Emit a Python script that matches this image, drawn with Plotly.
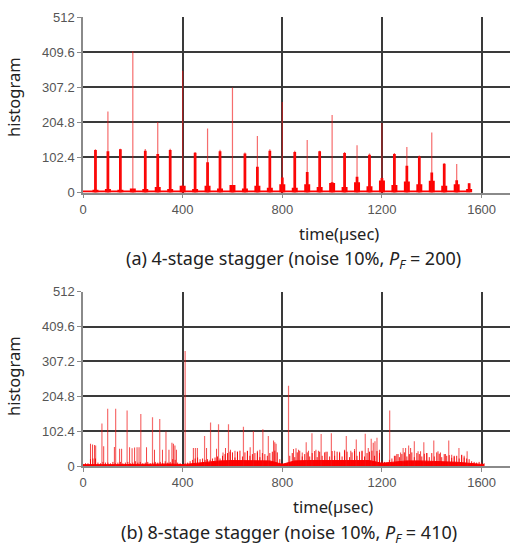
import plotly.graph_objects as go

# ---------------- data ----------------
# panel (a): 4-stage stagger
a_t = [50, 100, 150, 200, 250, 300, 350, 400, 450, 500, 550, 600, 650, 700, 750, 800,
       850, 900, 950, 1000, 1050, 1100, 1150, 1200, 1250, 1300, 1350, 1400, 1450, 1500, 1550]
a_peak = [126, 236, 128, 412, 127, 206, 128, 355, 118, 187, 125, 306, 117, 165, 126, 264,
          122, 153, 122, 226, 118, 138, 114, 203, 115, 133, 108, 175, 86, 83, 27]
a_body = [124, 120, 126, 10, 122, 112, 124, 20, 116, 88, 120, 22, 114, 75, 122, 44,
          118, 60, 120, 30, 115, 46, 110, 42, 112, 78, 105, 58, 84, 36, 27]
a_foot = [8, 10, 8, 12, 10, 16, 10, 20, 10, 20, 12, 22, 12, 20, 14, 24,
          14, 24, 16, 28, 16, 30, 18, 35, 22, 32, 24, 34, 20, 24, 10]
a_floor_t = [0, 1545]
a_floor_v = [3, 3]

# panel (b): 8-stage stagger
b_t = [76, 99, 131, 177, 232, 279, 308, 333, 410, 488, 512, 544, 584, 644, 684, 722, 744,
       825, 896, 919, 956, 997, 1057, 1097, 1133, 1157, 1180, 1231, 1285, 1307, 1330,
       1368, 1408, 1468, 1509, 1542]
b_peak = [125, 168, 168, 163, 153, 143, 138, 101, 338, 88, 128, 123, 123, 115, 103, 108, 88,
          236, 70, 96, 94, 96, 88, 78, 95, 80, 83, 163, 53, 60, 73,
          70, 75, 75, 53, 43]
b_ct = [30, 38, 46, 51, 83, 126, 147, 155, 187, 197, 207, 217, 225, 255, 287, 319, 345,
        357, 363, 369, 375, 443, 451, 459, 496, 536, 562, 572, 592, 610, 620, 660, 671,
        700, 710, 765, 770, 775, 845, 855, 865, 880, 905, 935, 945, 975, 1010, 1030, 1050,
        1075, 1090, 1120, 1145, 1165, 1172, 1190, 1255, 1265, 1275, 1295, 1315, 1345, 1355,
        1380, 1425, 1435, 1455, 1480, 1490, 1520, 1530]
b_ch = [65, 63, 62, 60, 58, 56, 51, 51, 55, 52, 54, 55, 55, 55, 48, 48, 48,
        68, 65, 60, 48, 53, 53, 53, 53, 51, 40, 53, 48, 45, 42, 45, 55,
        45, 48, 75, 70, 65, 50, 52, 48, 40, 45, 48, 45, 42, 45, 42, 48,
        45, 50, 43, 53, 68, 73, 48, 30, 35, 40, 53, 53, 43, 43,
        38, 43, 40, 35, 33, 30, 33, 30]
b_floor_t = [0, 10, 20, 30, 40, 50, 60, 70, 80, 90,
             100, 110, 120, 130, 140, 150, 160, 170, 180, 190,
             200, 210, 220, 230, 240, 250, 260, 270, 280, 290,
             300, 310, 320, 330, 340, 350, 360, 370, 380, 390,
             400, 410, 420, 430, 440, 450, 460, 470, 480, 490,
             500, 510, 520, 530, 540, 550, 560, 570, 580, 590,
             600, 610, 620, 630, 640, 650, 660, 670, 680, 690,
             700, 710, 720, 730, 740, 750, 760, 770, 780, 790,
             800, 810, 820, 830, 840, 850, 860, 870, 880, 890,
             900, 910, 920, 930, 940, 950, 960, 970, 980, 990,
             1000, 1010, 1020, 1030, 1040, 1050, 1060, 1070, 1080, 1090,
             1100, 1110, 1120, 1130, 1140, 1150, 1160, 1170, 1180, 1190,
             1200, 1210, 1220, 1230, 1240, 1250, 1260, 1270, 1280, 1290,
             1300, 1310, 1320, 1330, 1340, 1350, 1360, 1370, 1380, 1390,
             1400, 1410, 1420, 1430, 1440, 1450, 1460, 1470, 1480, 1490,
             1500, 1510, 1520, 1530, 1540, 1550, 1560, 1570, 1580, 1590,
             1600, 1610]
b_floor_v = [6, 8, 8, 20, 22, 22, 10, 8, 12, 10,
             10, 8, 12, 8, 10, 12, 8, 10, 12, 8,
             10, 14, 10, 12, 8, 10, 12, 8, 10, 12,
             10, 12, 8, 14, 10, 12, 20, 18, 10, 8,
             6, 8, 10, 14, 18, 22, 25, 20, 22, 18,
             20, 18, 22, 25, 28, 22, 30, 35, 38, 42,
             40, 25, 42, 45, 28, 40, 44, 30, 35, 38,
             40, 26, 38, 35, 30, 38, 42, 45, 40, 20,
             8, 6, 8, 30, 38, 26, 40, 45, 28, 35,
             40, 28, 38, 44, 26, 42, 30, 40, 42, 28,
             44, 30, 42, 38, 28, 45, 42, 26, 40, 44,
             30, 42, 45, 28, 38, 42, 45, 30, 44, 38,
             15, 12, 10, 18, 22, 30, 35, 26, 35, 40,
             28, 35, 40, 26, 38, 35, 28, 36, 38, 26,
             38, 28, 40, 36, 26, 35, 30, 32, 24, 28,
             30, 22, 32, 25, 22, 20, 14, 12, 10, 12,
             10, 8]
b_base_t = [0, 50, 100, 150, 200, 250, 300, 350, 400, 450, 500, 550, 600, 650, 700, 750,
            800, 850, 900, 950, 1000, 1050, 1100, 1150, 1200, 1250, 1300, 1350, 1400, 1450,
            1500, 1550, 1600, 1610]
b_base_v = [4, 5, 4, 4, 5, 5, 5, 6, 4, 8, 12, 15, 16, 16, 16, 15,
            5, 15, 16, 16, 17, 16, 17, 16, 8, 12, 15, 15, 14, 13,
            11, 8, 5, 4]

x_ticks = [0, 400, 800, 1200, 1600]
y_ticks = [0, 102.4, 204.8, 307.2, 409.6, 512]
y_ticktext = ["0", "102.4", "204.8", "307.2", "409.6", "512"]

# ---------------- layout helpers ----------------
W, H = 514, 547
ML, MR, MT, MB = 83, 4, 17, 81
PW, PH = W - ML - MR, H - MT - MB


def px_x(p):
    return (p - ML) / PW


def px_y(p):
    return (H - MB - p) / PH


RED = "rgb(255,0,0)"
THIN = "rgba(240,20,20,0.62)"


def stems(ts, hs):
    xs, ys = [], []
    for t, h in zip(ts, hs):
        xs += [t, t, None]
        ys += [0, h, None]
    return xs, ys


fig = go.Figure()

# ---- panel (a)
fig.add_trace(go.Scatter(x=a_floor_t, y=a_floor_v, mode="lines",
                         line=dict(color=RED, width=2), xaxis="x", yaxis="y",
                         hoverinfo="skip", showlegend=False))
fig.add_trace(go.Bar(x=a_t, y=a_foot, width=[24] * len(a_t), marker=dict(color=RED, line=dict(width=0)),
                     xaxis="x", yaxis="y", showlegend=False))
fig.add_trace(go.Bar(x=a_t, y=a_body, width=[11] * len(a_t), marker=dict(color=RED, line=dict(width=0)),
                     xaxis="x", yaxis="y", showlegend=False))
sx, sy = stems(a_t, a_peak)
fig.add_trace(go.Scatter(x=sx, y=sy, mode="lines", line=dict(color=THIN, width=1.2),
                         xaxis="x", yaxis="y", hoverinfo="skip", showlegend=False))

# ---- panel (b)
fig.add_trace(go.Scatter(x=b_base_t, y=b_base_v, mode="lines", fill="tozeroy",
                         fillcolor=RED, line=dict(color=RED, width=1),
                         xaxis="x2", yaxis="y2", hoverinfo="skip", showlegend=False))
sx, sy = stems(b_floor_t, b_floor_v)
fig.add_trace(go.Scatter(x=sx, y=sy, mode="lines", line=dict(color="rgba(245,0,0,0.9)", width=1),
                         xaxis="x2", yaxis="y2", hoverinfo="skip", showlegend=False))
fig.add_trace(go.Bar(x=b_ct, y=b_ch, width=[4] * len(b_ct),
                     marker=dict(color="rgba(240,20,20,0.8)", line=dict(width=0)),
                     xaxis="x2", yaxis="y2", showlegend=False))
sx, sy = stems(b_t, b_peak)
fig.add_trace(go.Scatter(x=sx, y=sy, mode="lines", line=dict(color=THIN, width=1.2),
                         xaxis="x2", yaxis="y2", hoverinfo="skip", showlegend=False))

tickfont = dict(family="Liberation Sans, Arial", size=13, color="#555555")
xcommon = dict(range=[0, 1714], tickvals=x_ticks, showgrid=True, gridcolor="#3a3a3a",
               gridwidth=1.5, zeroline=False, showline=True, linecolor="#8a8a8a",
               linewidth=1.5, ticks="outside", ticklen=4, tickcolor="#8a8a8a",
               tickfont=tickfont, fixedrange=True)
ycommon = dict(range=[0, 512], tickvals=y_ticks, ticktext=y_ticktext, showgrid=True,
               gridcolor="#3a3a3a", gridwidth=1.5, zeroline=False, showline=True,
               linecolor="#8a8a8a", linewidth=1.5, ticks="outside", ticklen=4,
               tickcolor="#8a8a8a", tickfont=tickfont, fixedrange=True)

fig.update_layout(
    width=W, height=H,
    margin=dict(l=ML, r=MR, t=MT, b=MB, pad=0, autoexpand=False),
    paper_bgcolor="white", plot_bgcolor="white",
    barmode="overlay",
    xaxis=dict(domain=[0, 1], anchor="y", **xcommon),
    yaxis=dict(domain=[px_y(192.5), 1], anchor="x", **ycommon),
    xaxis2=dict(domain=[0, 1], anchor="y2", **xcommon),
    yaxis2=dict(domain=[0, px_y(291.7)], anchor="x2", **ycommon),
)

lab_font = dict(family="Noto Sans, Open Sans, sans-serif", size=16.5, color="#222222")
cap_font = dict(family="Noto Sans, Open Sans, sans-serif", size=18, color="#222222")

ann = [
    dict(text="histogram", x=px_x(13), y=px_y(97), textangle=-90, font=lab_font),
    dict(text="histogram", x=px_x(13), y=px_y(376), textangle=-90, font=lab_font),
    dict(text="time(µsec)", x=px_x(339), y=px_y(233), font=lab_font),
    dict(text="time(µsec)", x=px_x(333), y=px_y(507), font=lab_font),
    dict(text="(a) 4-stage stagger (noise 10%, <i>P<sub>F</sub></i> = 200)",
         x=px_x(293), y=px_y(259), font=cap_font),
    dict(text="(b) 8-stage stagger (noise 10%, <i>P<sub>F</sub></i> = 410)",
         x=px_x(289), y=px_y(533), font=cap_font),
]
for a in ann:
    a.update(xref="paper", yref="paper", showarrow=False, xanchor="center", yanchor="middle")
fig.update_layout(annotations=ann)

fig.write_html("out.html", config={"displayModeBar": False},
               post_script="document.body.style.margin='0';document.body.style.overflow='hidden';")
